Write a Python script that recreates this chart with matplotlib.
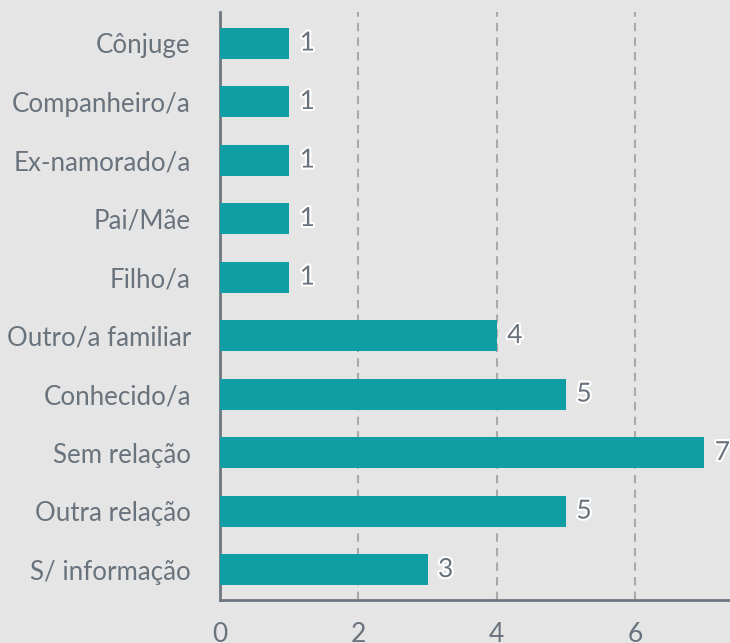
import matplotlib
matplotlib.use("Agg")
import matplotlib.pyplot as plt
import matplotlib.patheffects as pe

categories = ["Cônjuge", "Companheiro/a", "Ex-namorado/a", "Pai/Mãe", "Filho/a",
              "Outro/a familiar", "Conhecido/a", "Sem relação", "Outra relação",
              "S/ informação"]
values = [1, 1, 1, 1, 1, 4, 5, 7, 5, 3]
xticks = [0, 2, 4, 6]

bg = "#e5e5e5"
teal = "#0e9ea3"
txt = "#69737d"

plt.rcParams["font.family"] = ["Lato", "DejaVu Sans"]

fig = plt.figure(figsize=(7.3, 6.43), dpi=100, facecolor=bg)
ax = fig.add_axes([220 / 730, 43 / 643, 510 / 730, 588 / 643])
ax.set_facecolor(bg)

pos = list(range(len(categories)))
ax.barh(pos, values, height=0.53, color=teal, zorder=3)
for y, v in zip(pos, values):
    ax.text(v + 0.15, y, str(v), va="center", ha="left", fontsize=19, color=txt,
            zorder=4, path_effects=[pe.withStroke(linewidth=3, foreground="white")])

ax.set_ylim(9.52, -0.53)
ax.set_xlim(0, 7.37)
ax.set_yticks(pos)
ax.set_yticklabels(categories, fontsize=18.6, color=txt)
ax.set_xticks(xticks)
ax.set_xticklabels([str(t) for t in xticks], fontsize=19, color=txt)
ax.tick_params(length=0)
ax.tick_params(axis="y", pad=21)
ax.tick_params(axis="x", pad=16)

ax.grid(axis="x", color="#a9a9a9", linestyle=(0, (4, 3)), linewidth=1.5, zorder=1)
ax.xaxis.get_gridlines()[0].set_visible(False)
for s in ["top", "right"]:
    ax.spines[s].set_visible(False)
for s in ["left", "bottom"]:
    ax.spines[s].set_color("#6e7780")
    ax.spines[s].set_linewidth(2)

fig.savefig("out.png", dpi=100, facecolor=bg)
